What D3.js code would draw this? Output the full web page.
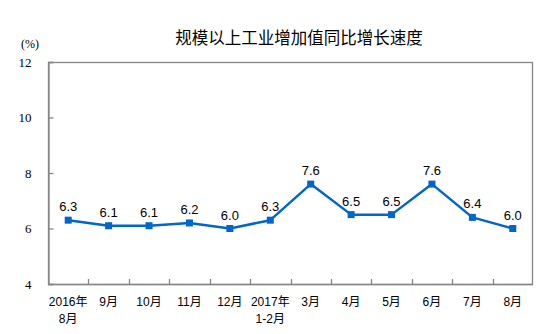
<!DOCTYPE html>
<html>
<head>
<meta charset="utf-8">
<script src="https://cdn.jsdelivr.net/npm/d3@7"></script>
<style>
  html, body { margin: 0; padding: 0; background: #fff; }
  svg { display: block; }
</style>
</head>
<body>
<svg id="chart" width="540" height="334"></svg>
<script>
// Monthly growth of industrial value added (year-on-year, %)
const categories = ["2016年\n8月", "9月", "10月", "11月", "12月", "2017年\n1-2月", "3月", "4月", "5月", "6月", "7月", "8月"];
const values = [6.3, 6.1, 6.1, 6.2, 6.0, 6.3, 7.6, 6.5, 6.5, 7.6, 6.4, 6.0];
const yTicks = [4, 6, 8, 10, 12];
const title = "规模以上工业增加值同比增长速度";
const unit = "(%)";

const svg = d3.select("#chart");
const plot = { left: 48, right: 533, top: 62, bottom: 284 };
const axisColor = "#868686";
const lineColor = "#0066cc";
const sansCJK = "'Liberation Sans', Arial, 'Noto Sans CJK SC', sans-serif";
const serif = "'Liberation Serif', 'Times New Roman', serif";

const x = d3.scaleBand().domain(d3.range(categories.length)).range([plot.left, plot.right]).padding(0);
const y = d3.scaleLinear().domain([4, 12]).range([plot.bottom, plot.top]);
const cx = i => x(i) + x.bandwidth() / 2;

// Plot frame
svg.append("rect")
  .attr("x", plot.left + 0.5).attr("y", plot.top + 0.5)
  .attr("width", plot.right - plot.left - 1).attr("height", plot.bottom - plot.top)
  .attr("fill", "none").attr("stroke", axisColor).attr("stroke-width", 1.3);

// Y axis (inward ticks)
const yAxis = d3.axisLeft(y).tickValues(yTicks).tickSize(-5).tickPadding(17).tickFormat(d3.format("d"));
const gy = svg.append("g").attr("transform", `translate(${plot.left + 0.5},0)`).call(yAxis);
gy.select(".domain").attr("stroke", axisColor).attr("stroke-width", 1.3);
gy.selectAll(".tick line").attr("stroke", axisColor).attr("stroke-width", 1.3);
gy.selectAll(".tick text").attr("font-family", serif).attr("font-size", 13).attr("fill", "#000");

// X axis: inward ticks on band boundaries
const boundaries = d3.range(1, categories.length);
svg.append("g").selectAll("line").data(boundaries).join("line")
  .attr("x1", i => Math.round(x(i)) + 0.5).attr("x2", i => Math.round(x(i)) + 0.5)
  .attr("y1", plot.bottom).attr("y2", plot.bottom - 5)
  .attr("stroke", axisColor).attr("stroke-width", 1.3);
svg.append("line")
  .attr("x1", plot.left).attr("x2", plot.right)
  .attr("y1", plot.bottom + 0.5).attr("y2", plot.bottom + 0.5)
  .attr("stroke", axisColor).attr("stroke-width", 1.3);

// Category labels (two lines where needed)
const xl = svg.append("g").selectAll("text").data(categories).join("text")
  .attr("x", (d, i) => cx(i)).attr("y", 306)
  .attr("text-anchor", "middle")
  .attr("font-family", sansCJK).attr("font-size", 12).attr("fill", "#000");
xl.each(function(d, i) {
  const parts = d.split("\n");
  d3.select(this).selectAll("tspan").data(parts).join("tspan")
    .attr("x", cx(i)).attr("dy", (p, k) => k === 0 ? 0 : 17).text(p => p);
});

// Series line
const line = d3.line().x((d, i) => cx(i)).y(d => y(d));
svg.append("path").datum(values)
  .attr("d", line).attr("fill", "none")
  .attr("stroke", lineColor).attr("stroke-width", 2.5).attr("stroke-linejoin", "round");

// Square markers
svg.append("g").selectAll("rect").data(values).join("rect")
  .attr("x", (d, i) => cx(i) - 3.5).attr("y", d => y(d) - 3.5)
  .attr("width", 7).attr("height", 7).attr("fill", lineColor);

// Value labels
svg.append("g").selectAll("text").data(values).join("text")
  .attr("x", (d, i) => cx(i)).attr("y", d => y(d) - 9)
  .attr("text-anchor", "middle")
  .attr("font-family", sansCJK).attr("font-size", 13).attr("fill", "#000")
  .text(d => d.toFixed(1));

// Title and unit
svg.append("text").attr("x", 299).attr("y", 44).attr("text-anchor", "middle")
  .attr("font-family", "'Noto Sans CJK SC', sans-serif").attr("font-size", 16.5).attr("fill", "#000")
  .text(title);
svg.append("text").attr("x", 30).attr("y", 48).attr("text-anchor", "middle")
  .attr("font-family", serif).attr("font-size", 12).attr("fill", "#000")
  .text(unit);
</script>
</body>
</html>
